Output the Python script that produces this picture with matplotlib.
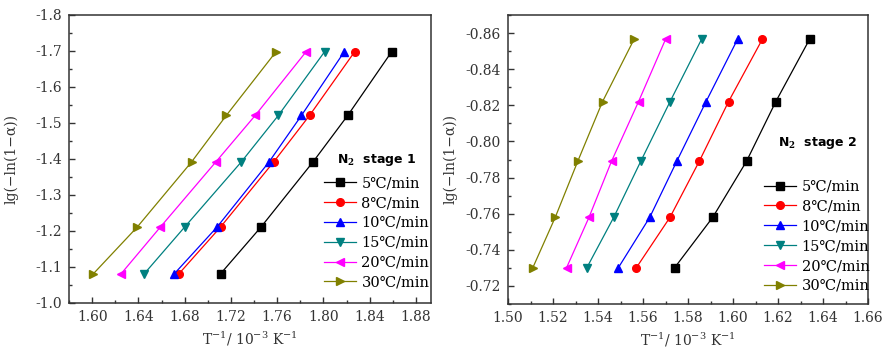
import matplotlib
matplotlib.use("Agg")
import matplotlib.pyplot as plt
from matplotlib.ticker import MultipleLocator, FormatStrFormatter

# ---- data ----
labels = ["5℃/min", "8℃/min", "10℃/min", "15℃/min", "20℃/min", "30℃/min"]
colors = ["#000000", "#ff0000", "#0000ff", "#008080", "#ff00ff", "#808000"]
markers = ["s", "o", "^", "v", "<", ">"]

# stage 1
y1 = [-1.081, -1.211, -1.392, -1.521, -1.698]
x1_5 = [1.711, 1.746, 1.791, 1.821, 1.859]
x1_8 = [1.675, 1.711, 1.757, 1.788, 1.827]
x1_10 = [1.671, 1.708, 1.753, 1.781, 1.818]
x1_15 = [1.645, 1.680, 1.729, 1.761, 1.801]
x1_20 = [1.625, 1.659, 1.707, 1.741, 1.785]
x1_30 = [1.601, 1.639, 1.686, 1.716, 1.759]

# stage 2
y2 = [-0.730, -0.758, -0.789, -0.822, -0.8565]
x2_5 = [1.574, 1.591, 1.606, 1.619, 1.634]
x2_8 = [1.557, 1.572, 1.585, 1.598, 1.613]
x2_10 = [1.549, 1.563, 1.575, 1.588, 1.602]
x2_15 = [1.535, 1.547, 1.559, 1.572, 1.586]
x2_20 = [1.526, 1.536, 1.546, 1.558, 1.570]
x2_30 = [1.511, 1.521, 1.531, 1.542, 1.556]

xs1 = [x1_5, x1_8, x1_10, x1_15, x1_20, x1_30]
xs2 = [x2_5, x2_8, x2_10, x2_15, x2_20, x2_30]

serif = ["DejaVu Serif", "DejaVu Sans"]
plt.rcParams["font.family"] = serif
plt.rcParams["mathtext.fontset"] = "dejavuserif"

fig = plt.figure(figsize=(8.88, 3.5), dpi=100)
ax1 = fig.add_axes([69/888, 1-303/350, 362/888, 288/350])
ax2 = fig.add_axes([508/888, 1-304/350, 360/888, 289/350])

def style(ax, xmaj, xmin, ymaj, ymin, xfmt, yfmt, ylpad):
    ax.xaxis.set_major_locator(MultipleLocator(xmaj))
    ax.xaxis.set_minor_locator(MultipleLocator(xmin))
    ax.yaxis.set_major_locator(MultipleLocator(ymaj))
    ax.yaxis.set_minor_locator(MultipleLocator(ymin))
    ax.xaxis.set_major_formatter(FormatStrFormatter(xfmt))
    ax.yaxis.set_major_formatter(FormatStrFormatter(yfmt))
    ax.tick_params(which="both", direction="in", top=False, right=False,
                   labelsize=10, colors="#333333")
    ax.tick_params(which="major", length=4, width=1, pad=5)
    ax.tick_params(which="minor", length=2.5, width=1)
    for s in ax.spines.values():
        s.set_linewidth(1.1)
        s.set_color("#333333")
    ax.set_xlabel("T$^{-1}$/ 10$^{-3}$ K$^{-1}$", fontsize=10, color="#333333", labelpad=4)
    ax.set_ylabel("lg(−ln(1−α))", fontsize=10, color="#333333", labelpad=ylpad)

for xs, lab, c, m in zip(xs1, labels, colors, markers):
    ax1.plot(xs, y1, color=c, marker=m, markersize=5.5, linewidth=0.9, label=lab)
for xs, lab, c, m in zip(xs2, labels, colors, markers):
    ax2.plot(xs, y2, color=c, marker=m, markersize=5.5, linewidth=0.9, label=lab)

ax1.set_xlim(1.58, 1.893)
ax1.set_ylim(-1.0, -1.8)
style(ax1, 0.04, 0.02, 0.1, 0.05, "%.2f", "%.1f", 12)

ax2.set_xlim(1.50, 1.66)
ax2.set_ylim(-0.71, -0.87)
style(ax2, 0.02, 0.01, 0.02, 0.01, "%.2f", "%.2f", 6)

leg_kw = dict(loc="upper left", frameon=False, fontsize=10.5, handlelength=2.2,
              handletextpad=0.35, labelspacing=0.4, borderpad=0, borderaxespad=0)
ax1.legend(bbox_to_anchor=(0.705, 0.44), **leg_kw)
ax2.legend(bbox_to_anchor=(0.712, 0.43), **leg_kw)

ax1.text(0.74, 0.497, "N$_{\\mathbf{2}}$  stage 1", transform=ax1.transAxes,
         fontsize=9, fontweight="bold", family=["DejaVu Sans"], va="center")
ax2.text(0.75, 0.557, "N$_{\\mathbf{2}}$  stage 2", transform=ax2.transAxes,
         fontsize=9, fontweight="bold", family=["DejaVu Sans"], va="center")

fig.savefig("out.png", dpi=100)
